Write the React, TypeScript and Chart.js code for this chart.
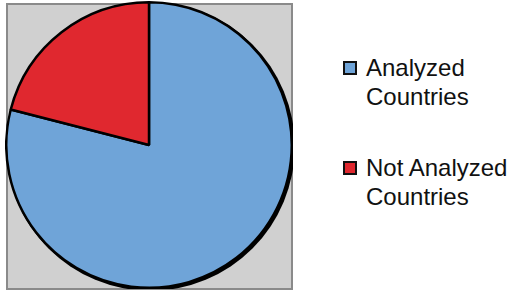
import React, { useEffect, useRef } from "react";
import { Chart, registerables } from "chart.js";

Chart.register(...registerables);

const labels = ["Analyzed Countries", "Not Analyzed Countries"];
const legendLines = [["Analyzed", "Countries"], ["Not Analyzed", "Countries"]];
const values = [79, 21];
const colors = ["#6fa4d8", "#e0282f"];

const shadowPlugin = {
  id: "pieShadow",
  beforeDatasetsDraw(chart: any) {
    const meta = chart.getDatasetMeta(0);
    const arc = meta.data[0];
    if (!arc) return;
    const { x, y, outerRadius } = arc.getProps(["x", "y", "outerRadius"], true);
    const ctx = chart.ctx;
    ctx.save();
    ctx.fillStyle = "#000";
    ctx.beginPath();
    ctx.arc(x + 1.5, y + 1.5, outerRadius + 1.5, 0, Math.PI * 2);
    ctx.fill();
    ctx.restore();
  },
};

export default function App() {
  const ref = useRef<HTMLCanvasElement>(null);
  useEffect(() => {
    if (!ref.current) return;
    const chart = new Chart(ref.current, {
      type: "pie",
      data: {
        labels,
        datasets: [
          {
            data: values,
            backgroundColor: colors,
            borderColor: "#000",
            borderWidth: 2.5,
          },
        ],
      },
      options: {
        animation: false,
        responsive: false,
        maintainAspectRatio: false,
        layout: { padding: 0 },
        plugins: { legend: { display: false }, tooltip: { enabled: false } },
      },
      plugins: [shadowPlugin],
    });
    return () => chart.destroy();
  }, []);

  const tops = [52.5, 152.5];
  return (
    <div style={{ position: "absolute", left: 0, top: 0, width: 507, height: 293, background: "#fff", overflow: "hidden" }}>
      <div
        style={{
          position: "absolute",
          left: 6,
          top: 3,
          width: 287,
          height: 287,
          boxSizing: "border-box",
          background: "#d0d0d0",
          border: "2px solid #8a8a8a",
        }}
      />
      <canvas ref={ref} width={288} height={288} style={{ position: "absolute", left: 5, top: 1, width: 288, height: 288 }} />
      {legendLines.map((lines, i) => (
        <div key={i}>
          <div
            style={{
              position: "absolute",
              left: 343,
              top: tops[i] + 8,
              width: 14,
              height: 14,
              boxSizing: "border-box",
              background: colors[i],
              border: "2px solid #111",
            }}
          />
          <div
            style={{
              position: "absolute",
              left: 366,
              top: tops[i],
              fontFamily: "'Liberation Sans', Arial, sans-serif",
              fontSize: 24,
              lineHeight: "29px",
              color: "#111",
              whiteSpace: "nowrap",
            }}
          >
            {lines.map((l, j) => (
              <div key={j}>{l}</div>
            ))}
          </div>
        </div>
      ))}
    </div>
  );
}
